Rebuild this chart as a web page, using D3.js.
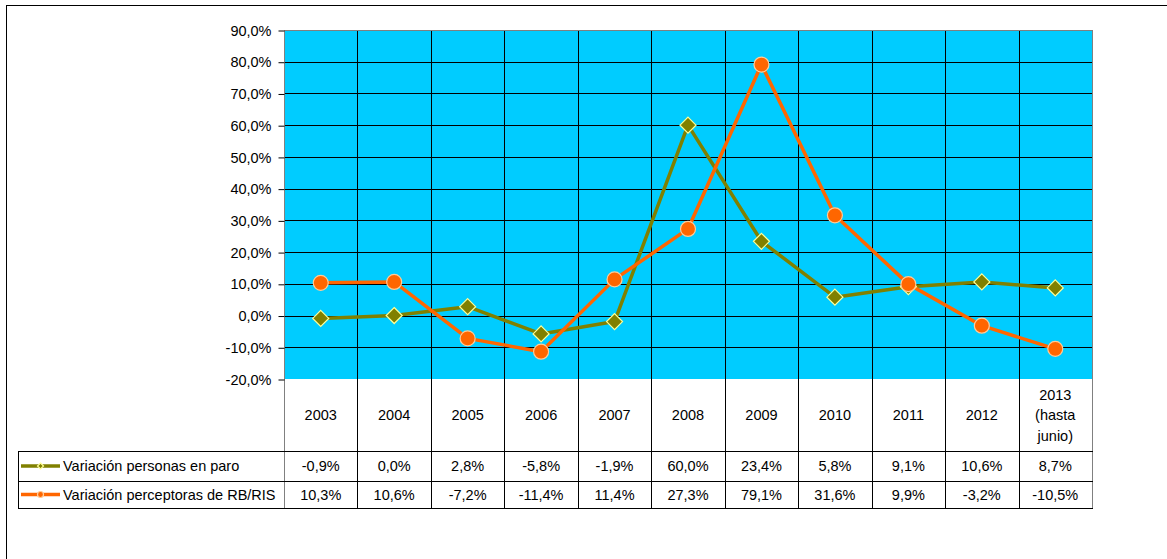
<!DOCTYPE html>
<html>
<head>
<meta charset="utf-8">
<script src="https://cdnjs.cloudflare.com/ajax/libs/d3/7.8.5/d3.min.js"></script>
<style>
  body { margin: 0; background: #fff; }
  text { font-family: "Liberation Sans", Arial, sans-serif; fill: #000; }
</style>
</head>
<body>
<div id="chart"></div>
<script>
// data
var years = ["2003", "2004", "2005", "2006", "2007", "2008", "2009", "2010", "2011", "2012", "2013 (hasta junio)"];
var paro = [-0.9, 0.0, 2.8, -5.8, -1.9, 60.0, 23.4, 5.8, 9.1, 10.6, 8.7];
var rbris = [10.3, 10.6, -7.2, -11.4, 11.4, 27.3, 79.1, 31.6, 9.9, -3.2, -10.5];
var yTicks = [-20, -10, 0, 10, 20, 30, 40, 50, 60, 70, 80, 90];
var seriesNames = ["Variación personas en paro", "Variación perceptoras de RB/RIS"];

var W = 1167, H = 559;
var plot = {left: 284, right: 1092, top: 30, bottom: 379};
var tableRows = [379, 451, 481, 508];
var tableLeft = 18;
var fs = "14.5px";

var fmt = function(v) { return v.toFixed(1).replace(".", ",") + "%"; };

var svg = d3.select("#chart").append("svg")
    .attr("width", W)
    .attr("height", H);

// outer frame
svg.append("rect")
    .attr("x", 6.5).attr("y", 5.5)
    .attr("width", W + 10).attr("height", H + 10)
    .attr("fill", "#fff").attr("stroke", "#000").attr("stroke-width", 1);

var x = d3.scaleBand().domain(years).range([plot.left, plot.right]);
var y = d3.scaleLinear().domain([-20, 90]).range([plot.bottom, plot.top]);

// plot background
svg.append("rect")
    .attr("x", plot.left).attr("y", plot.top)
    .attr("width", plot.right - plot.left).attr("height", plot.bottom - plot.top)
    .attr("fill", "#00ccff");

// horizontal grid
svg.append("g").selectAll("line")
    .data(yTicks.slice(1))
    .enter().append("line")
    .attr("x1", plot.left).attr("x2", plot.right)
    .attr("y1", function(d) { return Math.round(y(d)) + 0.5; })
    .attr("y2", function(d) { return Math.round(y(d)) + 0.5; })
    .attr("stroke", "#000").attr("stroke-width", 1);

// vertical lines through plot and table
var edges = years.map(function(d) { return x(d); }).concat([plot.right]);
svg.append("g").selectAll("line")
    .data(edges)
    .enter().append("line")
    .attr("x1", function(d) { return Math.round(d) + 0.5; })
    .attr("x2", function(d) { return Math.round(d) + 0.5; })
    .attr("y1", plot.top)
    .attr("y2", tableRows[3])
    .attr("stroke", function(d, i) { return (i === 0 || i === edges.length - 1) ? "#808080" : "#000"; })
    .attr("stroke-width", 1);

// plot top border
svg.append("line")
    .attr("x1", plot.left).attr("x2", plot.right + 1)
    .attr("y1", plot.top + 0.5).attr("y2", plot.top + 0.5)
    .attr("stroke", "#808080");

// y axis
var yAxis = d3.axisLeft(y).tickValues(yTicks).tickSize(6).tickPadding(7).tickFormat(fmt);
var ag = svg.append("g")
    .attr("transform", "translate(" + (plot.left + 0.5) + ",0.5)")
    .call(yAxis);
ag.select(".domain").remove();
ag.selectAll("line").attr("stroke", "#000");
ag.selectAll("text").style("font-size", fs).attr("fill", "#000");

// table horizontal lines
svg.append("g").selectAll("line")
    .data(tableRows.slice(1))
    .enter().append("line")
    .attr("x1", tableLeft)
    .attr("x2", plot.right + 1)
    .attr("y1", function(d) { return d + 0.5; })
    .attr("y2", function(d) { return d + 0.5; })
    .attr("stroke", "#000");
// table left line
svg.append("line")
    .attr("x1", tableLeft + 0.5).attr("x2", tableLeft + 0.5)
    .attr("y1", tableRows[1]).attr("y2", tableRows[3] + 1)
    .attr("stroke", "#000");

// header labels
var header = svg.append("g");
years.forEach(function(yr) {
    var cx = x(yr) + x.bandwidth() / 2;
    var parts = yr === "2013 (hasta junio)" ? ["2013", "(hasta", "junio)"] : [yr];
    var cy = (tableRows[0] + tableRows[1]) / 2;
    parts.forEach(function(p, j) {
        header.append("text")
            .attr("x", cx)
            .attr("y", cy + (j - (parts.length - 1) / 2) * 20.5)
            .attr("text-anchor", "middle")
            .attr("dominant-baseline", "central")
            .style("font-size", fs)
            .text(p);
    });
});

// series
var series = [
    {name: seriesNames[0], values: paro, color: "#808000", stroke: "#ffff99", shape: "diamond"},
    {name: seriesNames[1], values: rbris, color: "#ff6600", stroke: "#ffcc99", shape: "circle"}
];

var line = d3.line()
    .x(function(d, i) { return x(years[i]) + x.bandwidth() / 2; })
    .y(function(d) { return y(d); });

function drawMarker(g, cx, cy, s, size) {
    if (s.shape === "diamond") {
        g.append("path")
            .attr("d", "M" + cx + "," + (cy - size) + "L" + (cx + size) + "," + cy + "L" + cx + "," + (cy + size) + "L" + (cx - size) + "," + cy + "Z")
            .attr("fill", s.color).attr("stroke", s.stroke).attr("stroke-width", 1.2);
    } else {
        g.append("circle")
            .attr("cx", cx).attr("cy", cy).attr("r", size)
            .attr("fill", s.color).attr("stroke", s.stroke).attr("stroke-width", 1.2);
    }
}

series.forEach(function(s) {
    svg.append("path")
        .datum(s.values)
        .attr("d", line)
        .attr("fill", "none")
        .attr("stroke", s.color)
        .attr("stroke-width", 3.5)
        .attr("stroke-linejoin", "round");
});
series.forEach(function(s) {
    var g = svg.append("g");
    s.values.forEach(function(v, i) {
        drawMarker(g, x(years[i]) + x.bandwidth() / 2, y(v), s, s.shape === "diamond" ? 8 : 7.5);
    });
});

// table rows
series.forEach(function(s, r) {
    var cy = (tableRows[r + 1] + tableRows[r + 2]) / 2;
    var g = svg.append("g");
    g.append("line")
        .attr("x1", 21).attr("x2", 60)
        .attr("y1", cy).attr("y2", cy)
        .attr("stroke", s.color).attr("stroke-width", 3.5);
    drawMarker(g, 40.5, cy, s, 3);
    g.append("text")
        .attr("x", 63).attr("y", cy)
        .attr("dominant-baseline", "central")
        .style("font-size", fs)
        .text(s.name);
    s.values.forEach(function(v, i) {
        g.append("text")
            .attr("x", x(years[i]) + x.bandwidth() / 2)
            .attr("y", cy)
            .attr("text-anchor", "middle")
            .attr("dominant-baseline", "central")
            .style("font-size", fs)
            .text(fmt(v));
    });
});
</script>
</body>
</html>
